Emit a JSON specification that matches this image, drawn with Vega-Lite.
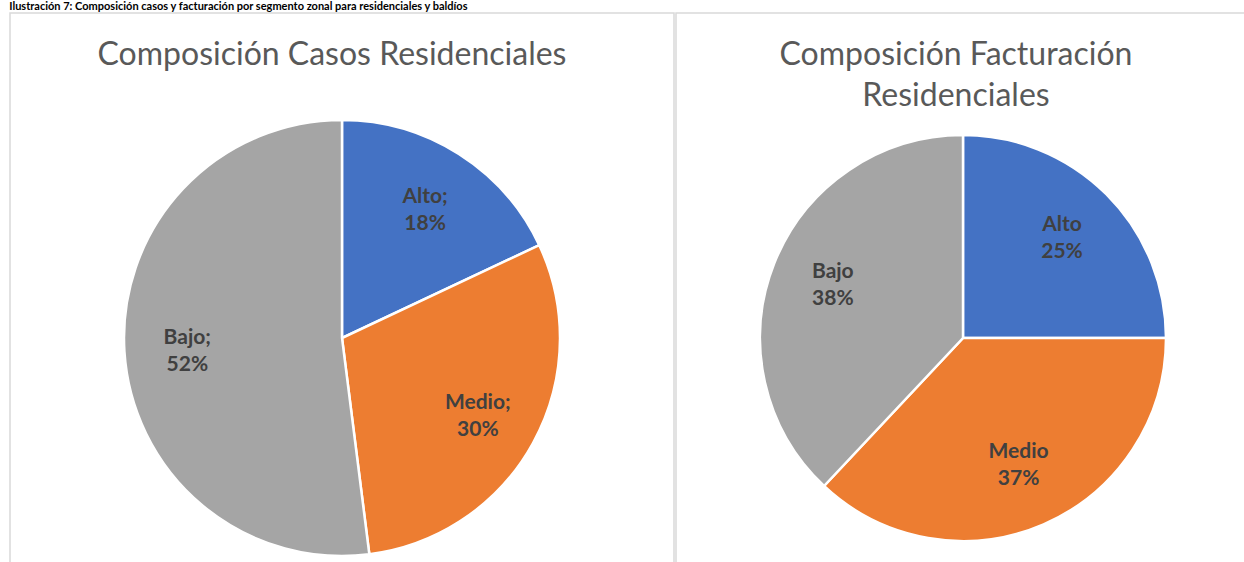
{
  "$schema": "https://vega.github.io/schema/vega-lite/v6.json",
  "padding": {"left": 9, "top": 1, "right": 0, "bottom": 0},
  "background": "white",
  "title": {
    "text": "Ilustración 7: Composición casos y facturación por segmento zonal para residenciales y baldíos",
    "anchor": "start",
    "font": "Lato",
    "fontSize": 11,
    "fontWeight": "bold",
    "color": "#000000",
    "offset": 0
  },
  "datasets": {
    "casos": [
      {"segmento": "Alto", "orden": 1, "porcentaje": 18, "etiqueta": "Alto;\n18%"},
      {"segmento": "Medio", "orden": 2, "porcentaje": 30, "etiqueta": "Medio;\n30%"},
      {"segmento": "Bajo", "orden": 3, "porcentaje": 52, "etiqueta": "Bajo;\n52%"}
    ],
    "facturacion": [
      {"segmento": "Alto", "orden": 1, "porcentaje": 25, "etiqueta": "Alto\n25%"},
      {"segmento": "Medio", "orden": 2, "porcentaje": 37, "etiqueta": "Medio\n37%"},
      {"segmento": "Bajo", "orden": 3, "porcentaje": 38, "etiqueta": "Bajo\n38%"}
    ]
  },
  "spacing": 0,
  "hconcat": [
    {
      "width": 664,
      "height": 650,
      "view": {"stroke": "#d9d9d9", "strokeWidth": 1.5},
      "data": {"name": "casos"},
      "title": {
        "text": "Composición Casos Residenciales",
        "font": "Lato",
        "fontSize": 32,
        "fontWeight": "normal",
        "color": "#595959",
        "baseline": "alphabetic",
        "offset": -84,
        "dx": -10
      },
      "encoding": {
        "theta": {"field": "porcentaje", "type": "quantitative", "stack": true},
        "order": {"field": "orden", "type": "quantitative"},
        "color": {
          "field": "segmento",
          "type": "nominal",
          "scale": {"domain": ["Alto", "Medio", "Bajo"], "range": ["#4472C4", "#ED7D31", "#A5A5A5"]},
          "legend": null
        }
      },
      "layer": [
        {"mark": {"type": "arc", "outerRadius": 218, "stroke": "white", "strokeWidth": 2.5}},
        {
          "mark": {"type": "text", "radius": 155, "dy": -10, "font": "Lato", "fontSize": 21, "fontWeight": "bold", "lineBreak": "\n", "lineHeight": 27},
          "encoding": {"text": {"field": "etiqueta", "type": "nominal"}, "color": {"value": "#404040"}}
        }
      ]
    },
    {
      "width": 574,
      "height": 650,
      "view": {"stroke": "#d9d9d9", "strokeWidth": 1.5},
      "data": {"name": "facturacion"},
      "title": {
        "text": ["Composición Facturación", "Residenciales"],
        "font": "Lato",
        "fontSize": 32,
        "fontWeight": "normal",
        "color": "#595959",
        "baseline": "alphabetic",
        "lineHeight": 41,
        "offset": -125,
        "dx": -7
      },
      "encoding": {
        "theta": {"field": "porcentaje", "type": "quantitative", "stack": true},
        "order": {"field": "orden", "type": "quantitative"},
        "color": {
          "field": "segmento",
          "type": "nominal",
          "scale": {"domain": ["Alto", "Medio", "Bajo"], "range": ["#4472C4", "#ED7D31", "#A5A5A5"]},
          "legend": null
        }
      },
      "layer": [
        {"mark": {"type": "arc", "outerRadius": 203, "stroke": "white", "strokeWidth": 2.5}},
        {
          "mark": {"type": "text", "radius": 140, "dy": -14, "font": "Lato", "fontSize": 21, "fontWeight": "bold", "lineBreak": "\n", "lineHeight": 27},
          "encoding": {"text": {"field": "etiqueta", "type": "nominal"}, "color": {"value": "#404040"}}
        }
      ]
    }
  ],
  "config": {
    "view": {"stroke": "#d9d9d9", "strokeWidth": 1.5},
    "concat": {"spacing": 0}
  }
}
